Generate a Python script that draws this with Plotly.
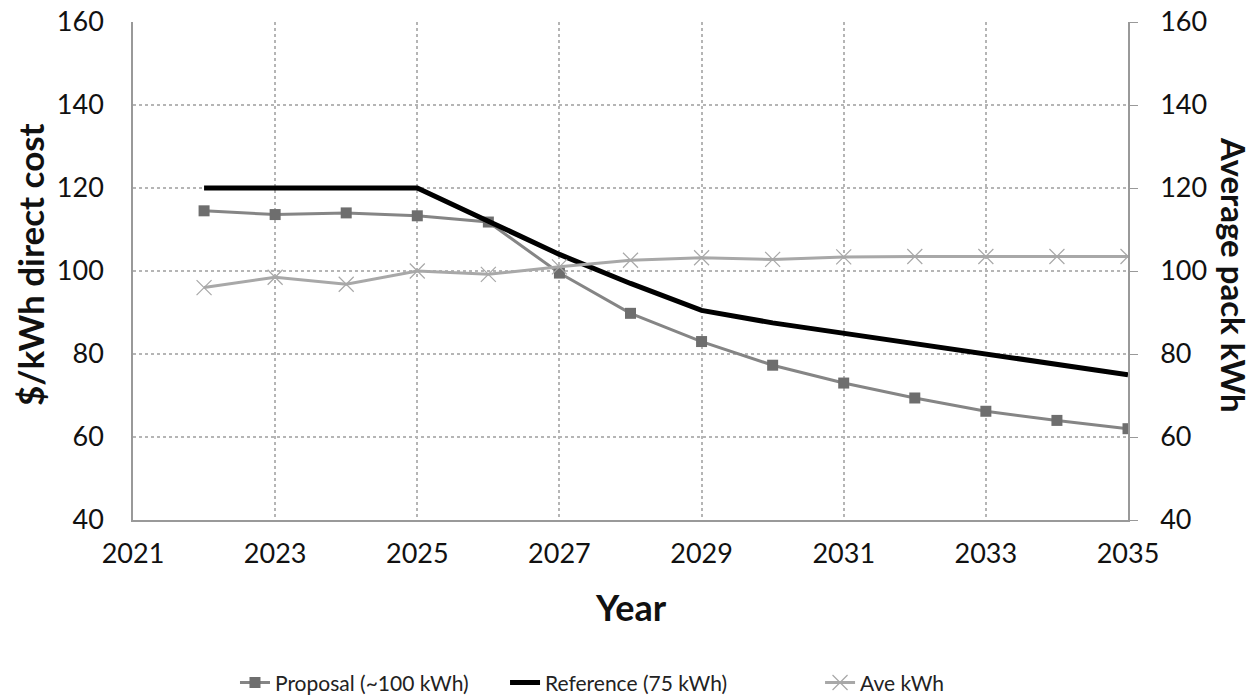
import plotly.graph_objects as go

years = [2022, 2023, 2024, 2025, 2026, 2027, 2028, 2029, 2030, 2031, 2032, 2033, 2034, 2035]
proposal = [114.5, 113.6, 114.0, 113.3, 111.8, 99.5, 89.8, 83.0, 77.3, 73.0, 69.4, 66.2, 64.0, 62.0]
reference = [120, 120, 120, 120, 112, 104, 97, 90.5, 87.5, 85.0, 82.5, 80.0, 77.5, 75.0]
ave_kwh = [96.0, 98.5, 96.8, 100.0, 99.2, 101.0, 102.6, 103.2, 102.8, 103.4, 103.5, 103.5, 103.5, 103.5]
x_ticks = [2021, 2023, 2025, 2027, 2029, 2031, 2033, 2035]

FONT = "Lato, Open Sans, sans-serif"

fig = go.Figure()
fig.add_trace(go.Scatter(x=years, y=proposal, name="Proposal (~100 kWh)", mode="lines+markers",
                         legend="legend",
                         line=dict(color="#858585", width=3),
                         marker=dict(symbol="square", size=11, color="#6e6e6e")))
fig.add_trace(go.Scatter(x=years, y=reference, name="Reference (75 kWh)", mode="lines",
                         legend="legend2",
                         line=dict(color="#000000", width=5)))
fig.add_trace(go.Scatter(x=years, y=ave_kwh, name="Ave kWh", mode="lines+markers", yaxis="y2",
                         legend="legend3",
                         line=dict(color="#a8a8a8", width=3),
                         marker=dict(symbol="x-thin-open", size=15, line=dict(color="#8c8c8c", width=1.2))))

grid = dict(showgrid=True, gridcolor="#b5b5b5", griddash="dot", gridwidth=1.5)
leg = dict(orientation="h", xanchor="left", y=-0.327, yanchor="middle",
           font=dict(size=21, color="#222"), bgcolor="rgba(0,0,0,0)")
fig.update_layout(
    width=1255, height=700,
    margin=dict(l=133, r=127, t=22, b=180, autoexpand=False),
    paper_bgcolor="white", plot_bgcolor="white",
    font=dict(family=FONT, size=27, color="#111"),
    xaxis=dict(range=[2021, 2035], tickmode="array", tickvals=x_ticks, automargin=False,
               ticks="", ticklabelstandoff=9, showline=True, linecolor="#999", linewidth=1.5, **grid),
    yaxis=dict(range=[40, 160], dtick=20, ticks="", ticklabelstandoff=22, automargin=False,
               showline=True, linecolor="#999", linewidth=1.5, **grid),
    yaxis2=dict(range=[40, 160], dtick=20, overlaying="y", side="right", showgrid=False, automargin=False,
                ticks="outside", ticklen=8, tickcolor="#999", ticklabelstandoff=17,
                showline=True, linecolor="#999", linewidth=1.5),
    legend=dict(x=0.1025, **leg),
    legend2=dict(x=0.3739, **leg),
    legend3=dict(x=0.6905, **leg),
    showlegend=True,
)
fig.add_annotation(text="<b>$/kWh direct cost</b>", xref="paper", yref="paper", x=-0.1035, y=0.512,
                   xanchor="center", yanchor="middle", textangle=-90, showarrow=False,
                   font=dict(size=35, family=FONT, color="#111"))
fig.add_annotation(text="<b>Average pack kWh</b>", xref="paper", yref="paper", x=1.1065, y=0.492,
                   xanchor="center", yanchor="middle", textangle=90, showarrow=False,
                   font=dict(size=33, family=FONT, color="#111"))
fig.add_annotation(text="<b>Year</b>", xref="paper", yref="paper", x=0.5, y=-0.1747,
                   xanchor="center", yanchor="middle", showarrow=False,
                   font=dict(size=36, family=FONT, color="#111"))

fig.write_html("out.html", config={"displayModeBar": False},
               post_script="document.body.style.margin='0';")
